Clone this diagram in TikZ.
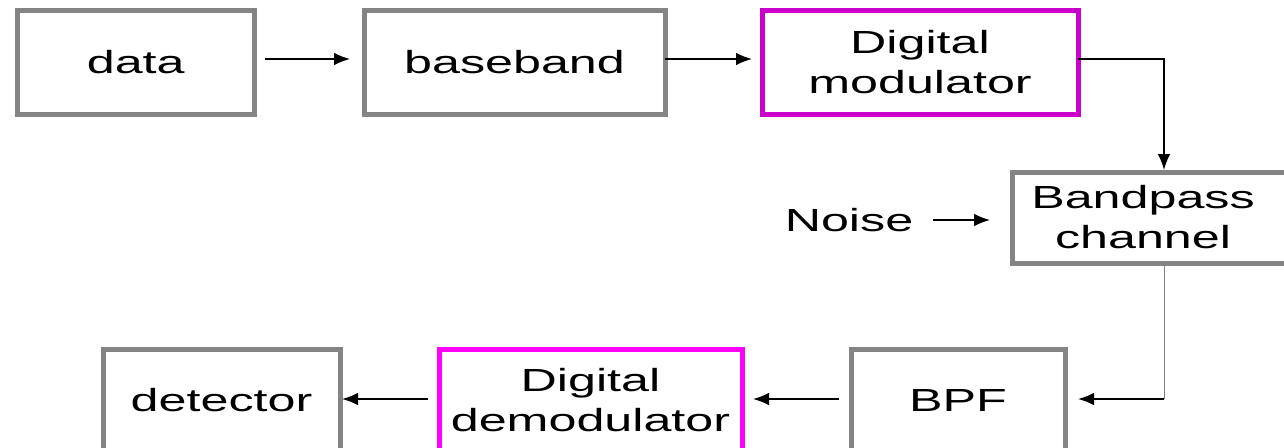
\documentclass[tikz,border=0pt]{standalone}
\usepackage{fontspec}
\setmainfont{Liberation Sans}[FakeStretch=1.57]
\usetikzlibrary{arrows.meta,calc}
\definecolor{boxgray}{RGB}{132,132,132}
\definecolor{magA}{RGB}{204,0,204}
\definecolor{magB}{RGB}{255,0,255}
\begin{document}
\begin{tikzpicture}[x=0.75pt,y=-0.75pt,
  font=\fontsize{24pt}{30pt}\selectfont,
  blk/.style={draw=boxgray, line width=3.75pt, rectangle, inner sep=0pt, outer sep=0pt, minimum height=78pt, align=center},
  conn/.style={line width=1.2pt, -{Latex[length=12pt,width=9.5pt]}}]
\useasboundingbox (0,0) rectangle (1284,447);
\clip (0,0) rectangle (1284,447);
% top row
\node[blk, minimum width=177.75pt] (data) at (135.75,62.5) {data};
\node[blk, minimum width=225.75pt] (bb) at (514.5,62.5) {baseband};
\node[blk, draw=magA, minimum width=237pt] (mod) at (920,62.5) {Digital\\modulator};
% channel
\node[blk, minimum width=208.5pt, minimum height=68.25pt,
  label={[align=center, xshift=-6pt]center:Bandpass\\channel}] (bp) at (1151,217.5) {};
\node[inner sep=0pt] (noise) at (849,220) {Noise};
% bottom row
\node[blk, minimum width=160.5pt, minimum height=77.25pt] (bpf) at (958,400.5) {BPF};
\node[blk, draw=magB, minimum width=227.25pt, minimum height=77.25pt] (demod) at (590.5,400.5) {Digital\\demodulator};
\node[blk, minimum width=177.75pt, minimum height=77.25pt] (det) at (221.5,400.5) {detector};
% connectors
\coordinate (r1) at (0,59);
\draw[conn, shorten <=8.25pt, shorten >=10.5pt] (data.east|-r1) -- (bb.west|-r1);
\draw[conn, shorten >=7.5pt] (bb.east|-r1) -- (mod.west|-r1);
\coordinate (c1) at (1164,59);
\draw[conn, shorten >=1.5pt] (mod.east|-c1) -- (c1) -- (c1|-bp.north);
\draw[conn, shorten <=14.25pt, shorten >=16.5pt] (noise.east) -- (bp.west|-noise.east);
\coordinate (c2) at (1164,399);
\draw[line width=0.75pt, draw=gray] (c2|-bp.south) -- (c2);
\draw[conn, shorten >=9.75pt] (c2) -- (bpf.east|-c2);
\draw[conn, shorten <=9pt, shorten >=8.25pt] (bpf.west|-c2) -- (demod.east|-c2);
\draw[conn, shorten <=8.25pt, shorten >=1.5pt] (demod.west|-c2) -- (det.east|-c2);
\end{tikzpicture}
\end{document}
